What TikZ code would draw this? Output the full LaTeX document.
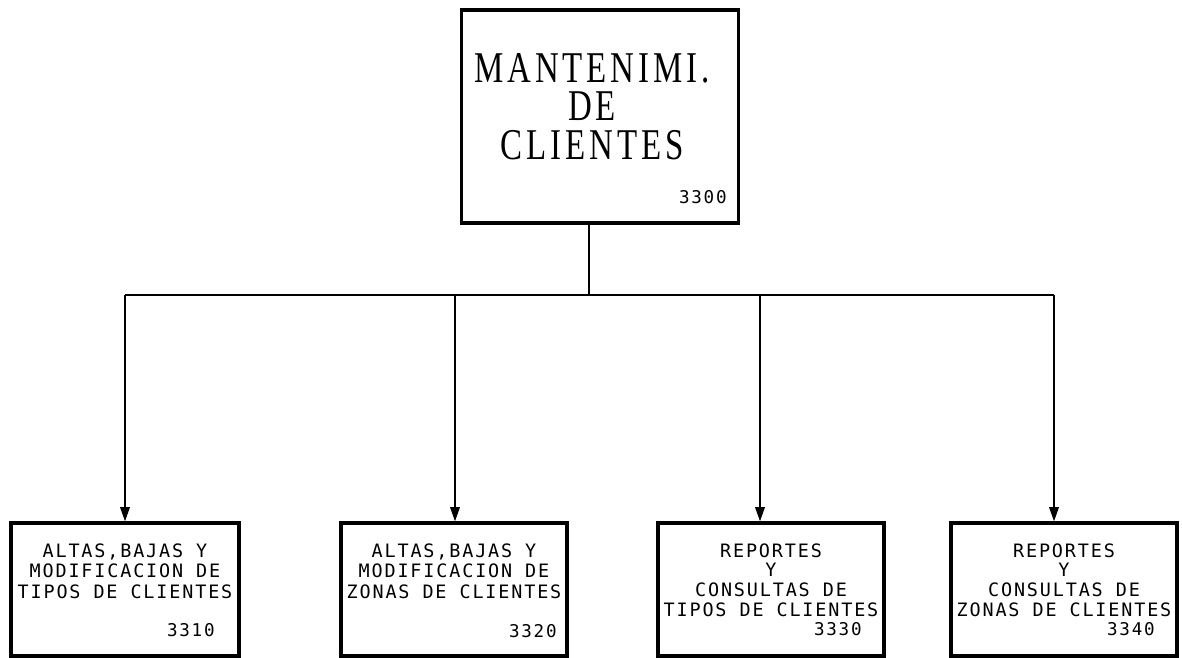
\documentclass[tikz,border=0pt]{standalone}
\usepackage{fontspec}
\usetikzlibrary{positioning,arrows.meta}
\newfontfamily\cadfont[LetterSpace=10]{DejaVu Sans Mono}
\newfontfamily\titlefont[FakeStretch=0.75,LetterSpace=9]{Liberation Serif}
\tikzset{
  modbox/.style={draw, line width=2pt, minimum width=4.56cm, minimum height=2.66cm, inner sep=0pt},
  modtext/.style={align=center, font=\cadfont\fontsize{10.5}{11.9}\selectfont, inner sep=0pt},
  modnum/.style={font=\cadfont\fontsize{10}{11}\selectfont, inner sep=0pt},
  link/.style={line width=0.7pt},
  >={Triangle[length=8pt,width=5.5pt]}
}
\begin{document}
\begin{tikzpicture}[x=0.02cm,y=-0.02cm]
    \useasboundingbox (0,0) rectangle (1182,658);
    \clip (0,0) rectangle (1182,658);
    % main module
    \node[modbox, minimum width=5.54cm, minimum height=4.26cm] (M) at (600,116.5) {};
    \node[align=center, inner sep=0pt, anchor=north,
          font=\titlefont\fontsize{25}{22}\selectfont] (Mt) at (592,53) {MANTENIMI.\\DE\\CLIENTES};
    \node[modnum, anchor=east] (Mn) at (727,197) {3300};
    % sub modules
    \node[modbox] (A) at (125,589.5) {};
    \node[modbox, minimum width=4.52cm] (B) at (454,589.5) {};
    \node[modbox, minimum width=4.52cm] (C) at (771,589.5) {};
    \node[modbox, minimum width=4.52cm] (D) at (1064,589.5) {};
    \node[modtext, anchor=north] (At) at (125,543) {ALTAS,BAJAS Y\\MODIFICACION DE\\TIPOS DE CLIENTES};
    \node[modtext, anchor=north] (Bt) at (454,543) {ALTAS,BAJAS Y\\MODIFICACION DE\\ZONAS DE CLIENTES};
    \node[modtext, anchor=north, font=\cadfont\fontsize{10.5}{11.3}\selectfont] (Ct) at (771,543) {REPORTES\\Y\\CONSULTAS DE\\TIPOS DE CLIENTES};
    \node[modtext, anchor=north, font=\cadfont\fontsize{10.5}{11.3}\selectfont] (Dt) at (1064,543) {REPORTES\\Y\\CONSULTAS DE\\ZONAS DE CLIENTES};
    \node[modnum, anchor=east] (An) at (215,630) {3310};
    \node[modnum, anchor=east] (Bn) at (557,631) {3320};
    \node[modnum, anchor=east] (Cn) at (862,629) {3330};
    \node[modnum, anchor=east] (Dn) at (1155,629) {3340};
    % connectors
    \coordinate (busM) at (589,295);
    \coordinate (busA) at (125,295);
    \coordinate (busB) at (455,295);
    \coordinate (busC) at (760,295);
    \coordinate (busD) at (1054,295);
    \draw[link] (M.south -| busM) -- (busM);
    \draw[link] (busA) -- (busD);
    \draw[link, ->] (busA) -- (busA |- A.north);
    \draw[link, ->] (busB) -- (busB |- B.north);
    \draw[link, ->] (busC) -- (busC |- C.north);
    \draw[link, ->] (busD) -- (busD |- D.north);
\end{tikzpicture}
\end{document}
